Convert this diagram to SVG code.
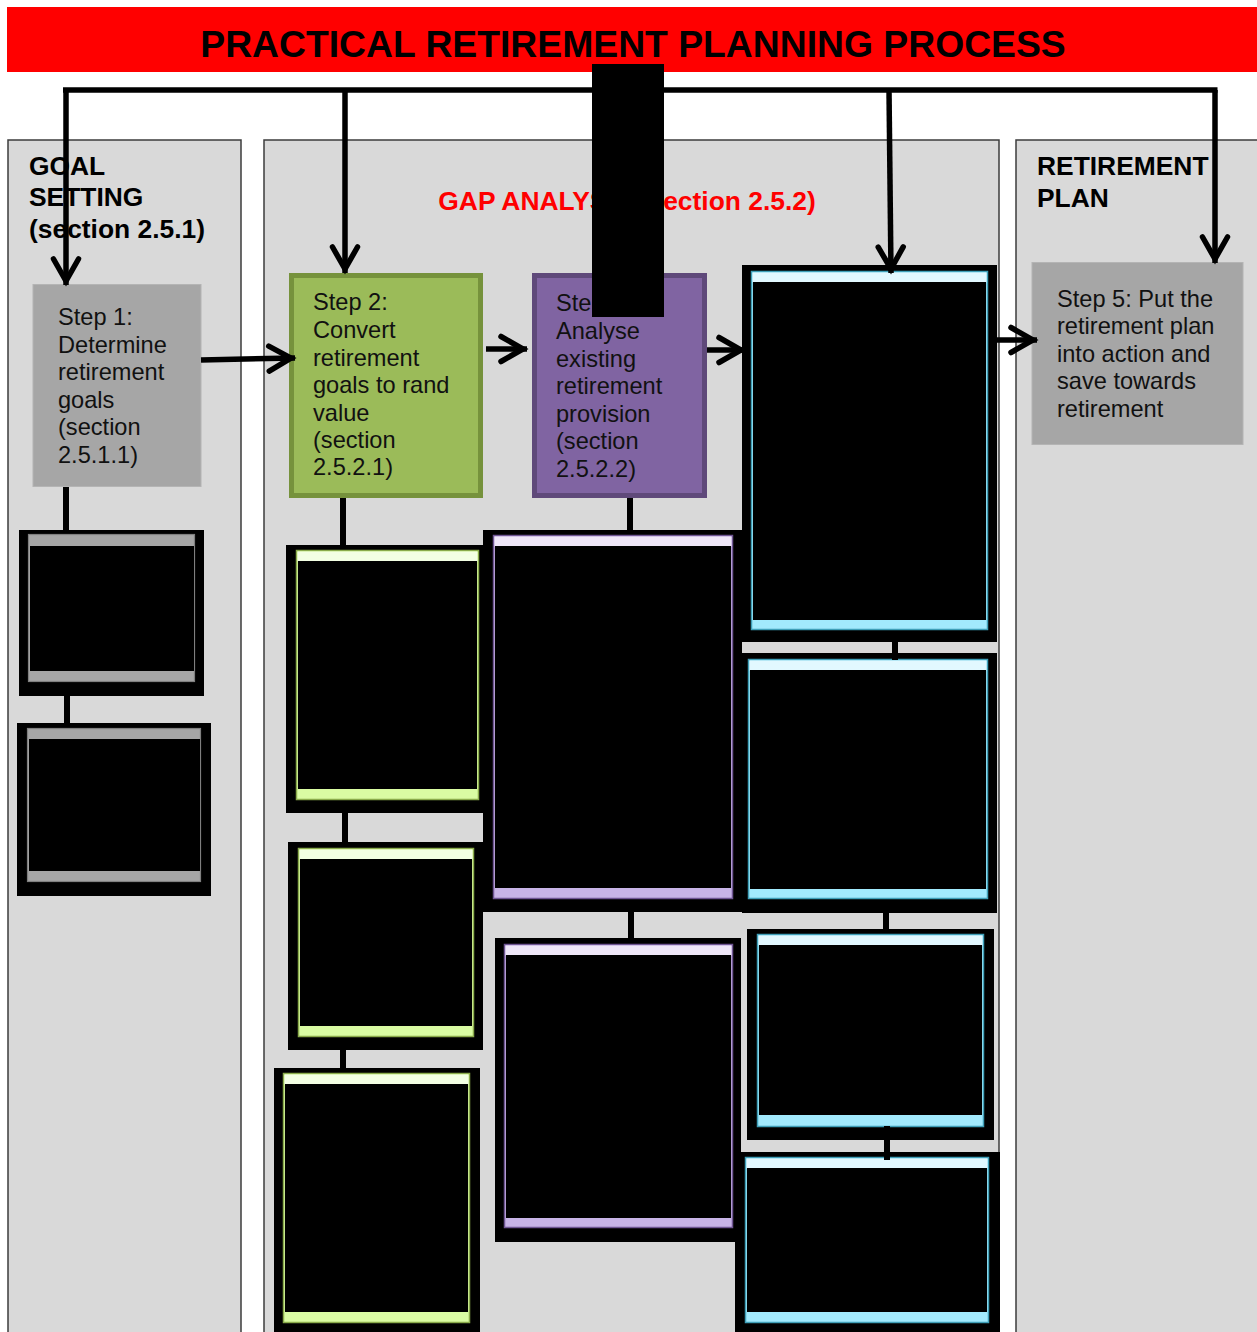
<svg xmlns="http://www.w3.org/2000/svg" width="1257" height="1332" viewBox="0 0 1257 1332">
  <style>
    .lane { fill: #d9d9d9; stroke: #3c3c3c; stroke-width: 1.5; }
    .lane-title { font-family: "Liberation Sans", Arial, sans-serif; font-weight: bold; font-size: 26.4px; fill: #000; }
    .step-text { font-family: "Liberation Sans", Arial, sans-serif; font-size: 23.6px; fill: #111; }
    .frame { fill: #000; }
    .gray-card { fill: #a6a6a6; stroke: #7f7f7f; stroke-width: 1.2; }
    .green-card { fill: #dafca3; stroke: #8aab4b; stroke-width: 1.5; }
    .green-top { fill: #f3ffe3; }
    .purple-card { fill: #c8b4e7; stroke: #6f5693; stroke-width: 1.5; }
    .purple-top { fill: #efe7f8; }
    .cyan-card { fill: #a2eafd; stroke: #3f9fb8; stroke-width: 1.5; }
    .cyan-top { fill: #e2f8ff; }
    .line { fill: none; stroke: #000; stroke-width: 5.5; }
    .stem { fill: none; stroke: #000; stroke-width: 6; }
  </style>
  <defs>
    <marker id="chev" markerUnits="userSpaceOnUse" markerWidth="40" markerHeight="40" viewBox="-30 -20 40 40" refX="0" refY="0" orient="auto" overflow="visible">
      <path d="M-26,-12.5 L-4,0 L-26,12.5" fill="none" stroke="#000" stroke-width="5.5" stroke-linejoin="miter" stroke-linecap="round"/>
    </marker>
  </defs>

  <rect width="1257" height="1332" fill="#fff"/>

  <!-- title banner -->
  <g id="title">
    <rect x="7" y="7" width="1252" height="65" fill="#ff0000"/>
    <text x="633" y="57" text-anchor="middle" font-family="'Liberation Sans', Arial, sans-serif" font-weight="bold" font-size="37.3" fill="#000">PRACTICAL RETIREMENT PLANNING PROCESS</text>
  </g>

  <!-- swim lanes -->
  <g id="lane-goal-setting">
    <rect class="lane" x="8" y="140" width="233" height="1220"/>
    <text class="lane-title" x="29" y="175">GOAL</text>
    <text class="lane-title" x="29" y="206">SETTING</text>
    <text class="lane-title" x="29" y="238">(section 2.5.1)</text>
  </g>
  <g id="lane-gap-analysis">
    <rect class="lane" x="264" y="140" width="735" height="1220"/>
    <text class="lane-title" x="627" y="210" text-anchor="middle" style="fill:#ff0000">GAP ANALYSIS (section 2.5.2)</text>
  </g>
  <g id="lane-retirement-plan">
    <rect class="lane" x="1016" y="140" width="260" height="1220"/>
    <text class="lane-title" x="1037" y="175">RETIREMENT</text>
    <text class="lane-title" x="1037" y="207">PLAN</text>
  </g>

  <!-- main steps -->
  <g id="step1">
    <rect x="33" y="284.5" width="168" height="202" fill="#a6a6a6" stroke="#b4b4b4" stroke-width="1"/>
    <text class="step-text" x="58" y="325">Step 1:</text>
    <text class="step-text" x="58" y="353">Determine</text>
    <text class="step-text" x="58" y="380">retirement</text>
    <text class="step-text" x="58" y="408">goals</text>
    <text class="step-text" x="58" y="435">(section</text>
    <text class="step-text" x="58" y="463">2.5.1.1)</text>
  </g>
  <g id="step2">
    <rect x="291.5" y="275.5" width="189" height="220" fill="#9bbb59" stroke="#76923c" stroke-width="5"/>
    <text class="step-text" x="313" y="310">Step 2:</text>
    <text class="step-text" x="313" y="338">Convert</text>
    <text class="step-text" x="313" y="366">retirement</text>
    <text class="step-text" x="313" y="393">goals to rand</text>
    <text class="step-text" x="313" y="421">value</text>
    <text class="step-text" x="313" y="448">(section</text>
    <text class="step-text" x="313" y="475">2.5.2.1)</text>
  </g>
  <g id="step3">
    <rect x="534.5" y="275.5" width="170" height="220" fill="#8064a2" stroke="#5f497a" stroke-width="5"/>
    <text class="step-text" x="556" y="311">Step 3:</text>
    <text class="step-text" x="556" y="339">Analyse</text>
    <text class="step-text" x="556" y="367">existing</text>
    <text class="step-text" x="556" y="394">retirement</text>
    <text class="step-text" x="556" y="422">provision</text>
    <text class="step-text" x="556" y="449">(section</text>
    <text class="step-text" x="556" y="477">2.5.2.2)</text>
  </g>
  <g id="step4">
    <rect class="frame" x="742" y="265" width="255" height="377"/>
    <rect class="cyan-card" x="751.5" y="271.5" width="236" height="358"/>
    <rect class="cyan-top" x="752.5" y="272.5" width="234" height="10"/>
    <rect class="frame" x="753" y="282" width="233" height="338"/>
  </g>
  <g id="step5">
    <rect x="1032" y="262.5" width="211" height="182" fill="#a6a6a6" stroke="#b4b4b4" stroke-width="1"/>
    <text class="step-text" x="1057" y="307">Step 5: Put the</text>
    <text class="step-text" x="1057" y="334">retirement plan</text>
    <text class="step-text" x="1057" y="362">into action and</text>
    <text class="step-text" x="1057" y="389">save towards</text>
    <text class="step-text" x="1057" y="417">retirement</text>
  </g>

  <!-- sub-tasks under step 1 -->
  <g id="goal-task-1">
    <rect class="frame" x="19" y="530" width="185" height="166"/>
    <rect class="gray-card" x="28.5" y="534.5" width="166" height="147"/>
    <rect class="frame" x="30" y="546" width="164" height="125"/>
  </g>
  <g id="goal-task-2">
    <rect class="frame" x="17" y="723" width="194" height="173"/>
    <rect class="gray-card" x="27.5" y="728.5" width="173" height="153"/>
    <rect class="frame" x="29" y="739" width="171" height="132"/>
  </g>

  <!-- sub-tasks under step 2 -->
  <g id="value-task-1">
    <rect class="frame" x="286" y="545" width="197" height="268"/>
    <rect class="green-card" x="296.5" y="550.5" width="182" height="249"/>
    <rect class="green-top" x="297.5" y="551.5" width="180" height="10"/>
    <rect class="frame" x="298" y="561" width="179" height="228"/>
  </g>
  <g id="value-task-2">
    <rect class="frame" x="288" y="842" width="195" height="208"/>
    <rect class="green-card" x="298.5" y="848.5" width="175" height="188"/>
    <rect class="green-top" x="299.5" y="849.5" width="173" height="10"/>
    <rect class="frame" x="300" y="859" width="172" height="167"/>
  </g>
  <g id="value-task-3">
    <rect class="frame" x="274" y="1068" width="206" height="280"/>
    <rect class="green-card" x="283.5" y="1073.5" width="186" height="249"/>
    <rect class="green-top" x="284.5" y="1074.5" width="184" height="10"/>
    <rect class="frame" x="285" y="1084" width="183" height="228"/>
  </g>

  <!-- sub-tasks under step 3 -->
  <g id="provision-task-1">
    <rect class="frame" x="483" y="530" width="259" height="382"/>
    <rect class="purple-card" x="493.5" y="535.5" width="239" height="363"/>
    <rect class="purple-top" x="494.5" y="536.5" width="237" height="10"/>
    <rect class="frame" x="495" y="546" width="236" height="342"/>
  </g>
  <g id="provision-task-2">
    <rect class="frame" x="495" y="938" width="246" height="304"/>
    <rect class="purple-card" x="504.5" y="944.5" width="228" height="283"/>
    <rect class="purple-top" x="505.5" y="945.5" width="226" height="10"/>
    <rect class="frame" x="506" y="955" width="225" height="263"/>
  </g>

  <!-- sub-tasks under step 4 -->
  <g id="gap-task-1">
    <rect class="frame" x="742" y="653" width="255" height="260"/>
    <rect class="cyan-card" x="748.5" y="659.5" width="239" height="239"/>
    <rect class="cyan-top" x="749.5" y="660.5" width="237" height="10"/>
    <rect class="frame" x="750" y="670" width="236" height="219"/>
  </g>
  <g id="gap-task-2">
    <rect class="frame" x="747" y="929" width="247" height="211"/>
    <rect class="cyan-card" x="757.5" y="934.5" width="226" height="192"/>
    <rect class="cyan-top" x="758.5" y="935.5" width="224" height="10"/>
    <rect class="frame" x="759" y="945" width="223" height="170"/>
  </g>
  <g id="gap-task-3">
    <rect class="frame" x="735" y="1152" width="265" height="200"/>
    <rect class="cyan-card" x="745.5" y="1157.5" width="243" height="165"/>
    <rect class="cyan-top" x="746.5" y="1158.5" width="241" height="10"/>
    <rect class="frame" x="747" y="1168" width="240" height="144"/>
  </g>

  <!-- connectors -->
  <g id="connectors">
    <path class="line" d="M63,90 H1217.5"/>
    <path class="line" d="M66,90 V285" marker-end="url(#chev)"/>
    <path class="line" d="M345,90 V273" marker-end="url(#chev)"/>
    <path class="line" d="M889,90 L891,273" marker-end="url(#chev)"/>
    <path class="line" d="M1215,90 V263" marker-end="url(#chev)"/>

    <path class="line" d="M201,360 L295,358" marker-end="url(#chev)"/>
    <path class="line" d="M486,349 H527" marker-end="url(#chev)"/>
    <path class="line" d="M707,350 H745" marker-end="url(#chev)"/>
    <path class="line" d="M997,340 H1037" marker-end="url(#chev)"/>

    <path class="stem" d="M66,487 V530"/>
    <path class="stem" d="M67,696 V723"/>
    <path class="stem" d="M343,498 V545"/>
    <path class="stem" d="M345,813 V842"/>
    <path class="stem" d="M343,1050 V1068"/>
    <path class="stem" d="M630,498 V530"/>
    <path class="stem" d="M631,912 V938"/>
    <path class="stem" d="M895,642 V660"/>
    <path class="stem" d="M886,913 V929"/>
    <path class="stem" d="M887,1126 V1160"/>
  </g>

  <!-- solid block over the top of the chart -->
  <rect x="592" y="64" width="72" height="253" fill="#000"/>
</svg>
